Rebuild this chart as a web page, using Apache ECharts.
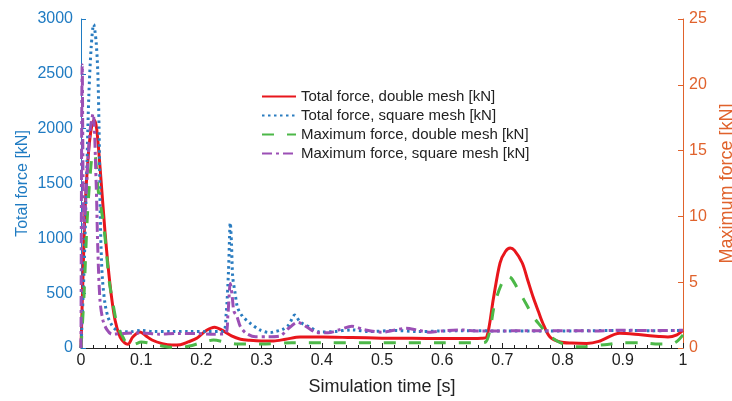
<!DOCTYPE html>
<html><head><meta charset="utf-8">
<script src="https://cdn.jsdelivr.net/npm/echarts@6/dist/echarts.min.js"></script>
<style>html,body{margin:0;padding:0;background:#fff}#c{width:732px;height:401px}</style>
</head><body><div id="c"></div>
<script>
// ---- data ----
const seriesNames = ['Total force, double mesh [kN]','Total force, square mesh [kN]','Maximum force, double mesh [kN]','Maximum force, square mesh [kN]'];
const xTicks = [0,0.1,0.2,0.3,0.4,0.5,0.6,0.7,0.8,0.9,1];

const tRed = [0,0.003,0.007,0.012,0.017,0.022,0.026,0.0316,0.04,0.048,0.0565,0.065,0.073,0.078,0.086,0.098,0.108,0.118,0.135,0.151,0.165,0.178,0.193,0.208,0.222,0.235,0.25,0.265,0.28,0.3,0.32,0.34,0.364,0.4,0.45,0.5,0.55,0.6,0.65,0.665,0.674,0.685,0.696,0.705,0.713,0.72,0.733,0.742,0.751,0.76,0.767,0.779,0.796,0.815,0.84,0.86,0.895,0.93,0.96,0.975,0.99,1.0];
const vRed = [0,600,1300,1750,2000,2080,2000,1650,1050,590,255,100,45,35,100,146,110,73,40,27,30,55,91,160,190,160,110,80,70,64,64,80,100,100,95,90,88,86,86,88,100,450,775,880,912,890,775,620,465,330,228,100,55,45,42,60,135,120,105,100,120,160];

const tBlue = [0,0.005,0.01,0.013,0.017,0.021,0.025,0.028,0.03,0.031,0.032,0.034,0.036,0.04,0.045,0.05,0.055,0.065,0.08,0.1,0.12,0.15,0.18,0.21,0.236,0.241,0.245,0.248,0.25,0.252,0.256,0.26,0.268,0.28,0.297,0.314,0.32,0.335,0.345,0.355,0.364,0.38,0.397,0.42,0.45,0.48,0.52,0.56,0.6,0.65,0.7,0.75,0.8,0.85,0.9,0.95,1.0];
const vBlue = [0,700,1700,2300,2750,2950,2800,2500,2000,1600,1200,800,600,400,280,220,180,150,148,160,150,150,150,150,150,300,700,1140,950,650,500,370,290,230,165,140,146,170,210,300,237,190,146,150,165,150,160,150,155,158,155,155,155,158,160,158,160];

const tGreen = [0,0.005,0.01,0.015,0.02,0.024,0.028,0.0365,0.0415,0.0465,0.053,0.061,0.07,0.075,0.082,0.09,0.1,0.11,0.13,0.15,0.165,0.18,0.2,0.22,0.24,0.26,0.28,0.3,0.35,0.4,0.5,0.6,0.66,0.672,0.68,0.685,0.69,0.7,0.708,0.715,0.729,0.74,0.751,0.763,0.774,0.785,0.796,0.81,0.824,0.84,0.87,0.9,0.93,0.96,0.98,0.99,1.0];
const vGreen = [0,4,9.5,13,14.8,14.5,12.2,9.7,7.7,5.2,3.4,1.6,0.8,0.4,0.2,0.3,0.45,0.4,0.2,0.05,0.05,0.15,0.4,0.6,0.45,0.3,0.3,0.3,0.4,0.4,0.4,0.4,0.4,0.45,1.5,2.9,3.8,5.0,5.45,5.3,4.2,3.3,2.4,1.7,1.1,0.7,0.4,0.2,0.1,0.12,0.25,0.4,0.4,0.3,0.3,0.5,1.0];

const tPurple = [0,0.002,0.005,0.01,0.015,0.02,0.025,0.028,0.0316,0.0365,0.043,0.0515,0.07,0.1,0.13,0.16,0.19,0.22,0.24,0.244,0.248,0.251,0.254,0.259,0.265,0.275,0.29,0.31,0.33,0.345,0.36,0.375,0.39,0.41,0.43,0.45,0.47,0.5,0.52,0.54,0.56,0.58,0.6,0.63,0.66,0.7,0.75,0.8,0.85,0.9,0.95,1.0];
const vPurple = [0,21.5,9,13,16.5,17.8,12.8,7.4,3.6,2.1,1.4,1.05,1.1,1.15,1.05,1.1,1.1,1.05,1.1,2.5,4.9,4.0,2.8,2.4,1.6,1.1,0.85,0.85,0.9,1.5,1.95,1.6,1.2,1.15,1.4,1.65,1.4,1.2,1.35,1.5,1.35,1.2,1.3,1.37,1.3,1.3,1.32,1.32,1.3,1.35,1.32,1.35];

// ---- chart ----
const zip = (t, v) => t.map((x, i) => [x, v[i]]);
const FONT = "'Liberation Sans', Arial, sans-serif";
const BLUE = '#1f7bc2', ORANGE = '#e0622c';
const chart = echarts.init(document.getElementById('c'), null, {renderer: 'canvas'});
chart.setOption({
  animation: false,
  textStyle: {fontFamily: FONT},
  grid: {left: 81, right: 49, top: 19, bottom: 53, containLabel: false, outerBoundsMode: 'none'},
  legend: {
    orient: 'vertical', left: 256, top: 84, itemWidth: 34, itemHeight: 14, itemGap: 4,
    itemStyle: {opacity: 0},
    textStyle: {fontSize: 15, color: '#222', fontFamily: FONT},
    data: seriesNames
  },
  xAxis: {
    type: 'value', min: 0, max: 1, interval: 0.1,
    name: 'Simulation time [s]', nameLocation: 'middle', nameGap: 30, nameMoveOverlap: false,
    nameTextStyle: {fontSize: 18, color: '#222', fontFamily: FONT},
    axisLine: {lineStyle: {color: '#222', width: 1}},
    axisTick: {inside: true, length: 5, lineStyle: {color: '#222'}},
    minorTick: {show: true, splitNumber: 5, length: 3, lineStyle: {color: '#222'}},
    axisLabel: {fontSize: 16, color: '#222', margin: 5, fontFamily: FONT, formatter: v => String(+(+v).toFixed(1))},
    splitLine: {show: false}
  },
  yAxis: [{
    type: 'value', min: 0, max: 3000, interval: 500, position: 'left',
    name: 'Total force [kN]', nameLocation: 'middle', nameGap: 50, nameRotate: 90, nameMoveOverlap: false,
    nameTextStyle: {fontSize: 16, color: BLUE, fontFamily: FONT},
    axisLine: {show: true, lineStyle: {color: BLUE, width: 1}},
    axisTick: {show: true, inside: true, length: 5, lineStyle: {color: BLUE}},
    axisLabel: {fontSize: 16, color: BLUE, margin: 8, fontFamily: FONT, formatter: v => String(v)},
    splitLine: {show: false}
  }, {
    type: 'value', min: 0, max: 25, interval: 5, position: 'right',
    name: 'Maximum force [kN]', nameLocation: 'middle', nameGap: 35, nameRotate: 90, nameMoveOverlap: false,
    nameTextStyle: {fontSize: 18, color: ORANGE, fontFamily: FONT},
    axisLine: {show: true, lineStyle: {color: ORANGE, width: 1}},
    axisTick: {show: true, inside: true, length: 5, lineStyle: {color: ORANGE}},
    axisLabel: {fontSize: 16, color: ORANGE, margin: 6, fontFamily: FONT, formatter: v => String(v)},
    splitLine: {show: false}
  }],
  series: [
    {name: seriesNames[0], type: 'line', yAxisIndex: 0, data: zip(tRed, vRed), smooth: 0.3, showSymbol: false, symbol: 'none',
     lineStyle: {color: '#e8161c', width: 3}, itemStyle: {color: '#e8161c'}},
    {name: seriesNames[1], type: 'line', yAxisIndex: 0, data: zip(tBlue, vBlue), smooth: 0.3, showSymbol: false, symbol: 'none',
     lineStyle: {color: '#2a7cc0', width: 3, type: [2.5, 3.5]}, itemStyle: {color: '#2a7cc0'}},
    {name: seriesNames[2], type: 'line', yAxisIndex: 1, data: zip(tGreen, vGreen), smooth: 0.3, showSymbol: false, symbol: 'none',
     lineStyle: {color: '#4cb848', width: 3, type: [12, 13]}, itemStyle: {color: '#4cb848'}},
    {name: seriesNames[3], type: 'line', yAxisIndex: 1, data: zip(tPurple, vPurple), smooth: 0.3, showSymbol: false, symbol: 'none',
     lineStyle: {color: '#9b4fb5', width: 3, type: [10, 4, 3, 4]}, itemStyle: {color: '#9b4fb5'}}
  ]
});
</script></body></html>
